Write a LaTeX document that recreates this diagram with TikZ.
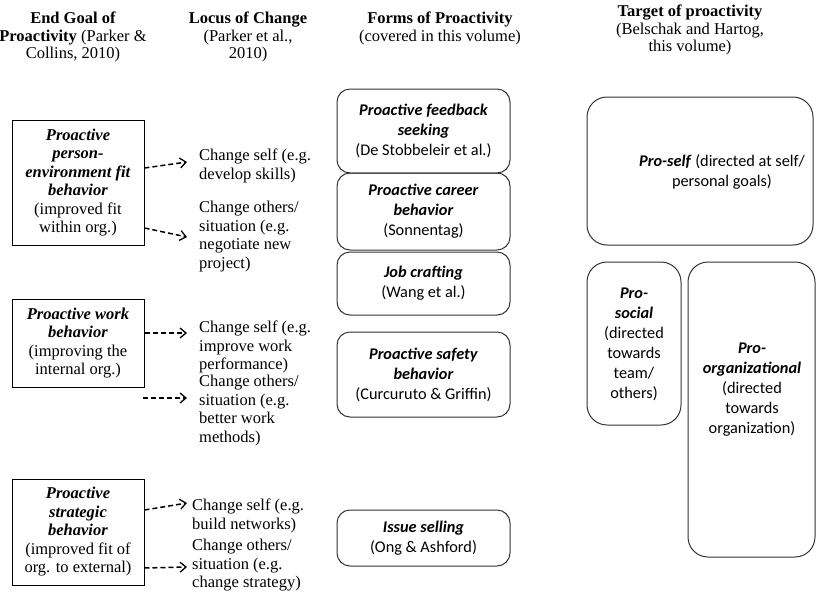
\documentclass[tikz,border=0pt]{standalone}
\usepackage{fontspec}
\setmainfont{Liberation Serif}
\newfontfamily\calibrifont{Carlito}
\usetikzlibrary{arrows.meta,positioning}

\newcommand\serifsize{\fontsize{16.5}{18.5}\selectfont}
\newcommand\headsize{\fontsize{16.5}{17.5}\selectfont}
\newcommand\calsize{\calibrifont\fontsize{16.3}{20}\selectfont}

\tikzset{
  head/.style={anchor=north, inner sep=0pt, align=center, font=\headsize},
  goalbox/.style={draw, line width=1pt, minimum width=132pt, inner sep=0pt, align=center, font=\serifsize},
  locus/.style={anchor=north west, inner sep=0pt, align=left, font=\serifsize},
  formbox/.style={draw=black!80, line width=1pt, rounded corners=13pt, minimum width=173pt, inner sep=0pt, align=center, font=\calsize},
  targetbox/.style={draw=black!80, line width=1pt, rounded corners=20pt, inner sep=0pt},
  targettext/.style={inner sep=0pt, align=center, font=\calsize},
  dasharrow/.style={dashed, dash pattern=on 5pt off 3pt, line width=1.5pt, -{Straight Barb[length=6pt,width=10pt,line width=1.3pt]}}
}

\begin{document}
\begin{tikzpicture}[x=1pt,y=-1pt]
\useasboundingbox (0,0) rectangle (817,598);

% column headers
\node[head] (hgoal) at (73,12) {\textbf{End Goal of}\\\textbf{Proactivity} (Parker \&\\Collins, 2010)};
\node[head] (hlocus) at (248,12) {\textbf{Locus of Change}\\(Parker et al.,\\2010)};
\node[head] (hforms) at (440,12) {\textbf{Forms of Proactivity}\\(covered in this volume)};
\node[head] (htarget) at (690,5) {\textbf{Target of proactivity}\\(Belschak and Hartog,\\this volume)};

% end goals
\node[goalbox, minimum height=125pt] (pe) at (78,182.5) {\textbf{\textit{Proactive}}\\\textbf{\textit{person-}}\\\textbf{\textit{environment fit}}\\\textbf{\textit{behavior}}\\(improved fit\\within org.)};
\node[goalbox, minimum height=88pt] (pw) at (78,343) {\textbf{\textit{Proactive work}}\\\textbf{\textit{behavior}}\\(improving the\\internal org.)};
\node[goalbox, minimum height=106pt] (ps) at (78,532) {\textbf{\textit{Proactive}}\\\textbf{\textit{strategic}}\\\textbf{\textit{behavior}}\\(improved fit of\\org. to external)};

% locus of change
\node[locus] (cs1) at (199,149) {Change self (e.g.\\develop skills)};
\node[locus] (co1) at (199,201) {Change others/\\situation (e.g.\\negotiate new\\project)};
\node[locus] (cs2) at (199,321) {Change self (e.g.\\improve work\\performance)};
\node[locus] (co2) at (199,375) {Change others/\\situation (e.g.\\better work\\methods)};
\node[locus] (cs3) at (192,499) {Change self (e.g.\\build networks)};
\node[locus] (co3) at (192,539) {Change others/\\situation (e.g.\\change strategy)};
\coordinate (free) at (143,398);

% dashed arrows
\draw[dasharrow] ([yshift=14.5pt]pe.east) -- ([xshift=-12pt,yshift=-13pt]cs1.north west);
\draw[dasharrow] ([yshift=-45.5pt]pe.east) -- ([xshift=-12pt,yshift=-36pt]co1.north west);
\draw[dasharrow] ([yshift=10pt]pw.east) -- ([xshift=-12pt,yshift=-12pt]cs2.north west);
\draw[dasharrow] (free) -- ([xshift=-12pt,yshift=-23pt]co2.north west);
\draw[dasharrow] ([yshift=22pt]ps.east) -- ([xshift=-5pt,yshift=-4pt]cs3.north west);
\draw[dasharrow] ([yshift=-36pt]ps.east) -- ([xshift=-5pt,yshift=-28pt]co3.north west);

% forms of proactivity
\node[formbox, minimum height=84pt] (fb) at (423.5,131) {\textbf{\textit{Proactive feedback}}\\\textbf{\textit{seeking}}\\(De Stobbeleir et al.)};
\node[formbox, minimum height=77pt] (cb) at (423.5,211.5) {\textbf{\textit{Proactive career}}\\\textbf{\textit{behavior}}\\(Sonnentag)};
\node[formbox, minimum height=63pt] (jc) at (423.5,283.5) {\textbf{\textit{Job crafting}}\\(Wang et al.)};
\node[formbox, minimum height=85pt] (sb) at (423.5,374.5) {\textbf{\textit{Proactive safety}}\\\textbf{\textit{behavior}}\\(Curcuruto \& Griffin)};
\node[formbox, minimum height=56pt] (iss) at (423.5,538) {\textbf{\textit{Issue selling}}\\(Ong \& Ashford)};

% targets
\node[targetbox, minimum width=226pt, minimum height=148pt] (pself) at (700,171) {};
\node[targettext] (pselft) at (722,172) {\textbf{\textit{Pro-self}} (directed at self/\\personal goals)};
\node[targetbox, minimum width=94pt, minimum height=163pt] (psoc) at (634,343.5) {};
\node[targettext] (psoct) at (634,344) {\textbf{\textit{Pro-}}\\\textbf{\textit{social}}\\(directed\\towards\\team/\\others)};
\node[targetbox, minimum width=127pt, minimum height=295pt] (porg) at (751.5,409.5) {};
\node[targettext] (porgt) at (752,390) {\textbf{\textit{Pro-}}\\\textbf{\textit{organizational}}\\(directed\\towards\\organization)};

\end{tikzpicture}
\end{document}
